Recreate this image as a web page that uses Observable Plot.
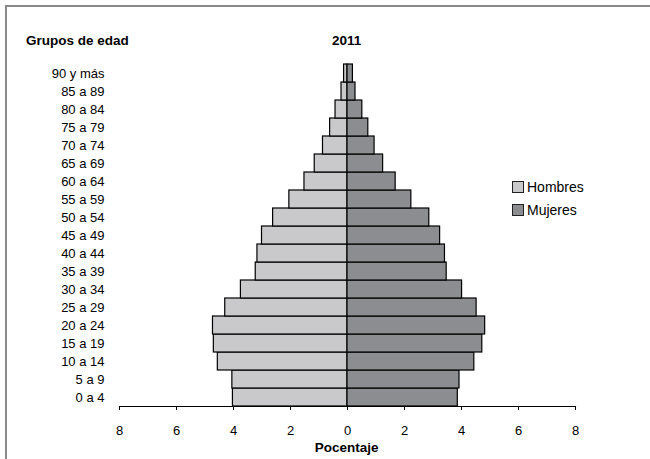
<!DOCTYPE html>
<html>
<head>
<meta charset="utf-8">
<script src="https://cdn.jsdelivr.net/npm/d3@7"></script>
<script src="https://cdn.jsdelivr.net/npm/@observablehq/plot@0.6"></script>
<style>
  html, body { margin: 0; padding: 0; background: #fff; }
  #wrap { position: relative; width: 650px; height: 459px; overflow: hidden; font-family: "Liberation Sans", Arial, sans-serif; color: #000; }
  #border { position: absolute; left: 5px; top: 5px; width: 720px; height: 520px; border: 2px solid #8a8a8a; box-sizing: border-box; pointer-events: none; }
  #chart { position: absolute; left: 0; top: 0; }
  .t { position: absolute; white-space: nowrap; line-height: 1; }
  .bold { font-weight: bold; font-size: 13.5px; }
  .leg { position: absolute; font-size: 14px; line-height: 1; white-space: nowrap; }
  .sw { display: inline-block; width: 12px; height: 12px; border: 1px solid #222; vertical-align: -1px; margin-right: 3px; box-sizing: border-box; }
</style>
</head>
<body>
<div id="wrap">
  <div id="chart"></div>
  <div id="border"></div>
  <div class="t bold" id="ytitle" style="left:26px; top:34px;">Grupos de edad</div>
  <div class="t bold" id="title" style="left:346.7px; top:34px; transform:translateX(-50%);">2011</div>
  <div class="t bold" id="xtitle" style="left:346.7px; top:440.5px; transform:translateX(-50%);">Pocentaje</div>
  <div id="legend"></div>
</div>
<script>
// Age groups, bottom to top
const grupos = ["0 a 4","5 a 9","10 a 14","15 a 19","20 a 24","25 a 29","30 a 34","35 a 39","40 a 44","45 a 49","50 a 54","55 a 59","60 a 64","65 a 69","70 a 74","75 a 79","80 a 84","85 a 89","90 y más"];
const hombres = [4.02, 4.04, 4.55, 4.69, 4.72, 4.29, 3.74, 3.22, 3.16, 3.00, 2.61, 2.04, 1.51, 1.15, 0.86, 0.61, 0.42, 0.21, 0.12];
const mujeres = [3.87, 3.93, 4.45, 4.73, 4.83, 4.53, 4.02, 3.48, 3.42, 3.25, 2.87, 2.24, 1.69, 1.25, 0.95, 0.73, 0.52, 0.28, 0.19];
const series = ["Hombres", "Mujeres"];
const colores = ["#c9c9cb", "#8c8d90"];
const xTicks = [-8, -6, -4, -2, 0, 2, 4, 6, 8];

const data = grupos.flatMap((g, i) => [
  {grupo: g, sexo: series[0], valor: -hombres[i]},
  {grupo: g, sexo: series[1], valor: mujeres[i]}
]);

const chart = Plot.plot({
  width: 650,
  height: 459,
  marginLeft: 119,
  marginRight: 75,
  marginTop: 64,
  marginBottom: 53,
  style: {fontFamily: "'Liberation Sans', Arial, sans-serif", fontSize: "13px", color: "#000", background: "transparent"},
  x: {domain: [-8, 8], ticks: xTicks, tickFormat: d => Math.abs(d), label: null},
  y: {domain: grupos.slice().reverse(), padding: 0, label: null},
  color: {domain: series, range: colores},
  marks: [
    Plot.barX(data, {y: "grupo", x1: d => 0, x2: "valor", fill: "sexo", stroke: "#000", strokeWidth: 1.2}),
    Plot.frame({anchor: "bottom", stroke: "#000", strokeWidth: 1.2}),
    Plot.axisX({ticks: xTicks, tickFormat: d => Math.abs(d), tickSize: 4, tickPadding: 15, label: null, stroke: "#000"}),
    Plot.axisY({tickSize: 0, tickPadding: 15, label: null})
  ]
});
document.getElementById("chart").appendChild(chart);

const legend = document.getElementById("legend");
series.forEach((s, i) => {
  const div = document.createElement("div");
  div.className = "leg";
  div.style.left = "512px";
  div.style.top = (180 + i * 23) + "px";
  div.innerHTML = `<span class="sw" style="background:${colores[i]}"></span>${s}`;
  legend.appendChild(div);
});
</script>
</body>
</html>
